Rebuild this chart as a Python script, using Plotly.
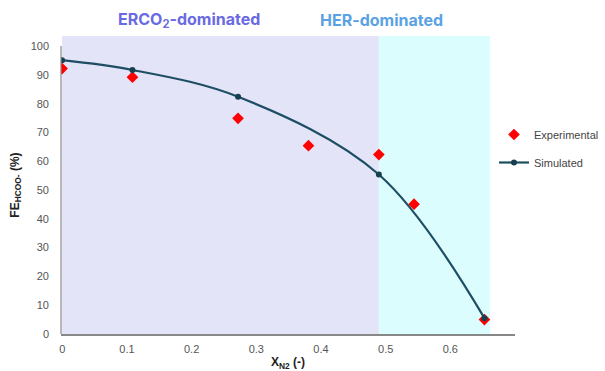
import plotly.graph_objects as go

# Data
x_exp = [0, 0.1, 0.25, 0.35, 0.45, 0.5, 0.6]
fe_exp = [92.2, 89.2, 74.9, 65.4, 62.3, 45.1, 5.0]
x_sim = [0, 0.1, 0.25, 0.45, 0.6]
fe_sim = [95.1, 91.7, 82.4, 55.4, 5.5]
x_ticks = [0, 0.1, 0.2, 0.3, 0.4, 0.5, 0.6]
y_ticks = [0, 10, 20, 30, 40, 50, 60, 70, 80, 90, 100]
region_erco2 = [0, 0.45]
region_her = [0.45, 0.608]

W, H = 605, 371
ML, MR, MT, MB = 61, 90, 36, 37

def px_x(p):
    return (p - ML) / (W - ML - MR)

def px_y(p):
    return (H - MB - p) / (H - MT - MB)

fig = go.Figure()

fig.add_trace(go.Scatter(
    x=x_exp, y=fe_exp, mode="markers", name="Experimental", legendgroup="exp",
    marker=dict(symbol="diamond", size=9, color="#FF0000"),
))
fig.add_trace(go.Scatter(
    x=x_sim, y=fe_sim, mode="lines+markers", name="Simulated", legendgroup="sim",
    line=dict(color="#1D4E63", width=2.2, shape="spline", smoothing=1.0),
    marker=dict(size=6, color="#16404F"),
))
# dummy trace to show xaxis2
fig.add_trace(go.Scatter(x=[0], y=[None], xaxis="x2", showlegend=False, hoverinfo="skip"))

# shaded regions
fig.add_shape(type="rect", xref="x", yref="paper", x0=region_erco2[0], x1=region_erco2[1],
              y0=0, y1=1, fillcolor="#E4E4F8", line=dict(width=0), layer="below")
fig.add_shape(type="rect", xref="x", yref="paper", x0=region_her[0], x1=region_her[1],
              y0=0, y1=1, fillcolor="#DCFDFD", line=dict(width=0), layer="below")
# y axis line (0-100)
fig.add_shape(type="line", xref="paper", yref="y", x0=0, x1=0, y0=0, y1=100,
              line=dict(color="#888888", width=1.2))

fig.add_annotation(x=px_x(189), y=px_y(20), xref="paper", yref="paper",
                   xanchor="center", yanchor="middle",
                   text="<b>ERCO<sub>2</sub>-dominated</b>", showarrow=False,
                   font=dict(family="Inter, Roboto, sans-serif", size=16, color="#6A6AE2"))
fig.add_annotation(x=px_x(381), y=px_y(20), xref="paper", yref="paper",
                   xanchor="center", yanchor="middle",
                   text="<b>HER-dominated</b>", showarrow=False,
                   font=dict(family="Inter, Roboto, sans-serif", size=16, color="#5BA2E3"))

fig.update_layout(
    width=W, height=H,
    margin=dict(l=ML, r=MR, t=MT, b=MB, autoexpand=False),
    paper_bgcolor="white", plot_bgcolor="white",
    showlegend=True,
    legend=dict(x=px_x(494), xanchor="left", y=px_y(120), yanchor="top", bgcolor="rgba(0,0,0,0)",
                font=dict(family="Liberation Sans, Arial, sans-serif", size=11, color="#444444"),
                itemwidth=30, traceorder="grouped", tracegroupgap=9),
    xaxis=dict(range=[-0.0015, 0.6434], showticklabels=False, showgrid=False, zeroline=False,
               showline=False, domain=[0, 1]),
    xaxis2=dict(range=[-0.002, 0.7], overlaying="x", side="bottom", tickvals=x_ticks,
                ticktext=[("0" if v == 0 else f"{v:.1f}") for v in x_ticks],
                showgrid=False, zeroline=False, showline=True, linecolor="#888888", linewidth=1.5,
                ticks="", ticklabelstandoff=4,
                tickfont=dict(family="Liberation Sans, Arial, sans-serif", size=11, color="#555555"),
                title=dict(text="<b>X<sub>N2</sub> (-)</b>", standoff=7,
                           font=dict(family="Liberation Sans, Arial, sans-serif", size=12, color="#222222"))),
    yaxis=dict(range=[0, 103.5], tickvals=y_ticks, showgrid=False, zeroline=False, showline=False,
               ticks="", ticklabelstandoff=11,
               tickfont=dict(family="Liberation Sans, Arial, sans-serif", size=11, color="#555555"),
               title=dict(text="<b>FE<sub>HCOO-</sub> (%)</b>", standoff=8,
                          font=dict(family="Liberation Sans, Arial, sans-serif", size=12, color="#222222"))),
)

fig.write_html("out.html")
